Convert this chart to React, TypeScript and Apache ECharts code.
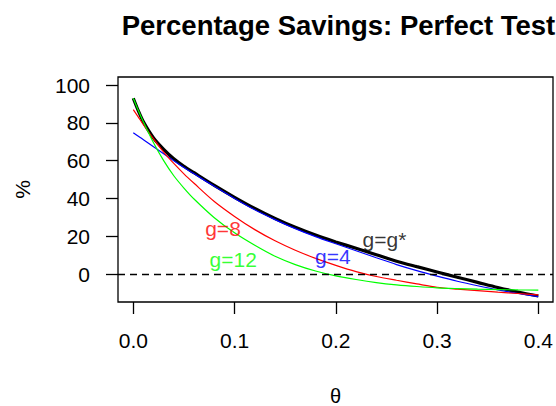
import React, { useEffect, useRef } from "react";
import * as echarts from "echarts";

const thetas = [0, 0.005, 0.01, 0.02, 0.03, 0.04, 0.05, 0.06, 0.08, 0.1, 0.12, 0.14, 0.16, 0.18, 0.2, 0.22, 0.24, 0.26, 0.28, 0.3, 0.32, 0.34, 0.36, 0.38, 0.4];
const gStar = [93, 86.3, 80.5, 72, 66, 61, 57, 53.6, 46.9, 40.6, 34.7, 29.4, 24.7, 20.6, 17, 13.6, 10.2, 6.8, 3.9, 1.1, -1.7, -4.4, -7.1, -9.5, -11.6];
const g4 = [74.8, 72.9, 71.1, 67.4, 63.7, 60, 56.4, 53, 46.4, 40, 34, 28.8, 24, 19.8, 16, 12.3, 8.6, 5, 1.8, -1.1, -3.8, -6.2, -8.4, -10.3, -12];
const g8 = [87, 83, 79, 71.5, 64.5, 58.5, 53, 48, 38.4, 30.5, 23.5, 17.6, 12.6, 8.3, 4.6, 1.3, -1.3, -3.3, -5.2, -7, -8, -8.8, -9.6, -10.3, -11];
const g12 = [93, 86.5, 80.5, 69.5, 60, 52, 45.5, 39.7, 29.8, 21.8, 15.2, 9.4, 5, 1.6, -1, -2.9, -4.5, -5.7, -6.6, -7.3, -7.7, -8, -8.2, -8.4, -8.5];

const xTicks = [0, 0.1, 0.2, 0.3, 0.4];
const yTicks = [0, 20, 40, 60, 80, 100];

const curveLabels = [
  { text: "g=8", x: 0.0886, y: 24.3, color: "#FF0000" },
  { text: "g=12", x: 0.0987, y: 7.7, color: "#00FF00" },
  { text: "g=4", x: 0.197, y: 9.5, color: "#0000FF" },
  { text: "g=g*", x: 0.248, y: 18.5, color: "#000000" },
];

const FONT = "'Liberation Sans', Arial, sans-serif";

const pairs = (ys: number[]) => thetas.map((t, i) => [t, ys[i]]);

export default function App() {
  const ref = useRef<HTMLDivElement>(null);
  useEffect(() => {
    if (!ref.current) return;
    const chart = echarts.init(ref.current, null, { renderer: "svg" });
    const lineBase = {
      type: "line",
      showSymbol: false,
      symbol: "none",
      smooth: 0.3,
      silent: true,
      z: 3,
    };
    chart.setOption({
      animation: false,
      backgroundColor: "#ffffff",
      grid: {
        left: 118,
        top: 77,
        width: 435,
        height: 225,
        containLabel: false,
        outerBoundsMode: "none",
        show: true,
        borderColor: "#000",
        borderWidth: 1.3,
        backgroundColor: "transparent",
      },
      graphic: [
        {
          type: "text",
          x: 338.5,
          y: 25,
          style: {
            text: "Percentage Savings: Perfect Test",
            fontSize: 27.5,
            fontWeight: "bold",
            fontFamily: FONT,
            fill: "#000",
            textAlign: "center",
            textVerticalAlign: "middle",
          },
        },
      ],
      xAxis: {
        type: "value",
        min: -0.0151,
        max: 0.4145,
        name: "θ",
        nameLocation: "middle",
        nameGap: 85,
        nameTextStyle: { fontSize: 20, lineHeight: 17, fontFamily: FONT, color: "#000" },
        axisLine: { show: false, onZero: false },
        splitLine: { show: false },
        axisTick: {
          show: true,
          customValues: xTicks,
          length: 12,
          lineStyle: { color: "#000", width: 1.3 },
        },
        axisLabel: {
          customValues: xTicks,
          formatter: (v: number) => v.toFixed(1),
          fontSize: 21,
          fontFamily: FONT,
          color: "#000",
          margin: 28,
        },
      },
      yAxis: {
        type: "value",
        min: -14.8,
        max: 104.25,
        name: "%",
        nameLocation: "middle",
        nameGap: 85,
        nameRotate: 90,
        nameTextStyle: { fontSize: 21, fontFamily: FONT, color: "#000" },
        axisLine: { show: false, onZero: false },
        splitLine: { show: false },
        axisTick: {
          show: true,
          customValues: yTicks,
          length: 12,
          lineStyle: { color: "#000", width: 1.3 },
        },
        axisLabel: {
          customValues: yTicks,
          formatter: (v: number) => String(v),
          fontSize: 21,
          fontFamily: FONT,
          color: "#000",
          margin: 28,
        },
      },
      series: [
        {
          ...lineBase,
          name: "g=g*",
          data: pairs(gStar),
          lineStyle: { color: "#000000", width: 3.2 },
          markLine: {
            silent: true,
            symbol: "none",
            label: { show: false },
            lineStyle: { color: "#000", width: 1.3, type: [7, 5] },
            data: [{ yAxis: 0 }],
          },
        },
        { ...lineBase, name: "g=4", data: pairs(g4), lineStyle: { color: "#0000FF", width: 1.2 } },
        { ...lineBase, name: "g=8", data: pairs(g8), lineStyle: { color: "#FF0000", width: 1.2 } },
        { ...lineBase, name: "g=12", data: pairs(g12), lineStyle: { color: "#00FF00", width: 1.2 } },
        {
          type: "scatter",
          silent: true,
          symbolSize: 1,
          itemStyle: { color: "rgba(0,0,0,0)" },
          z: 5,
          data: curveLabels.map((l) => ({
            value: [l.x, l.y],
            label: {
              show: true,
              position: "inside",
              formatter: l.text,
              color: l.color,
              fontSize: 21,
              fontFamily: FONT,
            },
          })),
        },
      ],
    });
    return () => chart.dispose();
  }, []);
  return (
    <div
      ref={ref}
      style={{ position: "fixed", left: 0, top: 0, width: 556, height: 406 }}
    />
  );
}
